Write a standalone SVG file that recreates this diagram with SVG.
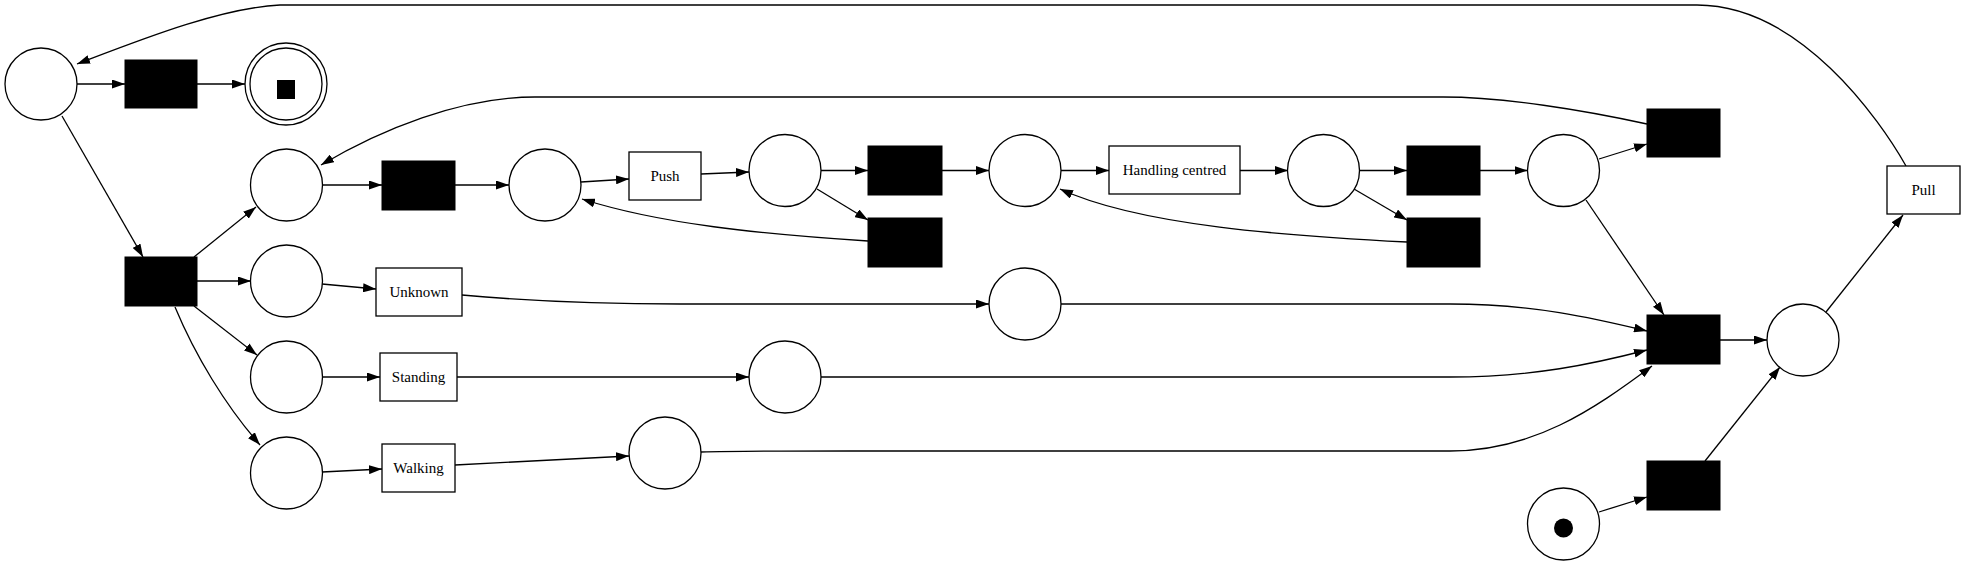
<svg xmlns="http://www.w3.org/2000/svg" width="1965" height="565" viewBox="0 0 1965 565">
<style>
.pl{fill:#fff;stroke:#000;stroke-width:1.3}
.tb{fill:#000;stroke:#000;stroke-width:1}
.tl{fill:#fff;stroke:#000;stroke-width:1.3}
.lb{font-family:"Liberation Serif","Times New Roman",serif;font-size:15px;text-anchor:middle;fill:#000}
.e{fill:none;stroke:#000;stroke-width:1.3;marker-end:url(#ah)}
</style>
<defs>
<marker id="ah" viewBox="0 0 13 9" refX="13" refY="4.5" markerWidth="13" markerHeight="9" markerUnits="userSpaceOnUse" orient="auto">
<path d="M0,0 L13,4.5 L0,9 Z" fill="#000"/>
</marker>
</defs>
<rect width="1965" height="565" fill="#fff"/>
<g id="connectors">
<path class="e" d="M1906,166 C1880,120 1800,5 1697,5 L280,5 C220,8 140,40 77,64"/>
<path class="e" d="M77,84 L125,84"/>
<path class="e" d="M197,84 L245,84"/>
<path class="e" d="M62,116 L143,257"/>
<path class="e" d="M194,257 L256,207"/>
<path class="e" d="M197,281 L251,281"/>
<path class="e" d="M194,306 L257,355"/>
<path class="e" d="M175,307 C195,355 225,405 260,445"/>
<path class="e" d="M322,185 L382,185"/>
<path class="e" d="M455,185 L509,185"/>
<path class="e" d="M581,182 L629,179"/>
<path class="e" d="M701,174 L749,172"/>
<path class="e" d="M821,170.5 L868,170.5"/>
<path class="e" d="M817,189 L868,220"/>
<path class="e" d="M868,241 C760,234 660,224 582,199"/>
<path class="e" d="M942,170.5 L989,170.5"/>
<path class="e" d="M1061,170.5 L1109,170.5"/>
<path class="e" d="M1240,170.5 L1288,170.5"/>
<path class="e" d="M1359,170.5 L1407,170.5"/>
<path class="e" d="M1354,189 L1407,220"/>
<path class="e" d="M1407,242 C1290,236 1140,226 1060,189"/>
<path class="e" d="M1480,170.5 L1527.5,170.5"/>
<path class="e" d="M1599,159 L1647,144"/>
<path class="e" d="M1647,124 C1583,110 1503,97 1443,97 L535,97 C460,97 380,130 321,165"/>
<path class="e" d="M322,284 L376,289"/>
<path class="e" d="M462,295 C540,302 600,304 680,304 L989,304"/>
<path class="e" d="M1061,304 L1450,304 C1533,304 1593,318 1647,331"/>
<path class="e" d="M322,377 L380,377"/>
<path class="e" d="M457,377 L749,377"/>
<path class="e" d="M821,377 L1450,377 C1533,377 1593,364 1647,350"/>
<path class="e" d="M322,472 L382,469"/>
<path class="e" d="M455,465 L629,456"/>
<path class="e" d="M701,452 C740,451 780,451 850,451 L1450,451 C1533,451 1593,410 1652,366"/>
<path class="e" d="M1586,200 L1664,315"/>
<path class="e" d="M1720,340 L1767,340"/>
<path class="e" d="M1599,512 L1647,497"/>
<path class="e" d="M1705,461 L1780,367"/>
<path class="e" d="M1826,312 L1903,215"/>
</g>
<g id="p0"><circle class="pl" cx="41" cy="84" r="36"/></g>
<g id="t0"><rect class="tb" x="125" y="60" width="72" height="48"/></g>
<g id="pend"><circle class="pl" cx="286" cy="84" r="41"/><circle class="pl" cx="286" cy="84" r="36"/><rect x="277" y="80" width="18" height="19" fill="#000"/></g>
<g id="tsplit"><rect class="tb" x="125" y="257" width="72" height="49"/></g>
<g id="p2"><circle class="pl" cx="286.5" cy="185" r="36"/></g>
<g id="t1"><rect class="tb" x="382" y="161" width="73" height="49"/></g>
<g id="p3"><circle class="pl" cx="545" cy="185" r="36"/></g>
<g id="push"><rect class="tl" x="629" y="152" width="72" height="48"/><text class="lb" x="665" y="181">Push</text></g>
<g id="p4"><circle class="pl" cx="785" cy="170.5" r="36"/></g>
<g id="ta"><rect class="tb" x="868" y="146" width="74" height="49"/></g>
<g id="tb"><rect class="tb" x="868" y="218" width="74" height="49"/></g>
<g id="p5"><circle class="pl" cx="1025" cy="170.5" r="36"/></g>
<g id="handling"><rect class="tl" x="1109" y="146" width="131" height="48"/><text class="lb" x="1174.5" y="175">Handling centred</text></g>
<g id="p6"><circle class="pl" cx="1323.5" cy="170.5" r="36"/></g>
<g id="tc"><rect class="tb" x="1407" y="146" width="73" height="49"/></g>
<g id="td"><rect class="tb" x="1407" y="218" width="73" height="49"/></g>
<g id="p7"><circle class="pl" cx="1563.5" cy="170.5" r="36"/></g>
<g id="te"><rect class="tb" x="1647" y="109" width="73" height="48"/></g>
<g id="pu"><circle class="pl" cx="286.5" cy="281" r="36"/></g>
<g id="unknown"><rect class="tl" x="376" y="268" width="86" height="48"/><text class="lb" x="419" y="297">Unknown</text></g>
<g id="pu2"><circle class="pl" cx="1025" cy="304" r="36"/></g>
<g id="ps"><circle class="pl" cx="286.5" cy="377" r="36"/></g>
<g id="standing"><rect class="tl" x="380" y="353" width="77" height="48"/><text class="lb" x="418.5" y="382">Standing</text></g>
<g id="ps2"><circle class="pl" cx="785" cy="377" r="36"/></g>
<g id="pw"><circle class="pl" cx="286.5" cy="473" r="36"/></g>
<g id="walking"><rect class="tl" x="382" y="444" width="73" height="48"/><text class="lb" x="418.5" y="473">Walking</text></g>
<g id="pw2"><circle class="pl" cx="665" cy="453" r="36"/></g>
<g id="tm"><rect class="tb" x="1647" y="315" width="73" height="49"/></g>
<g id="p8"><circle class="pl" cx="1803" cy="340" r="36"/></g>
<g id="ts"><rect class="tb" x="1647" y="461" width="73" height="49"/></g>
<g id="pstart"><circle class="pl" cx="1563.5" cy="524" r="36"/><circle cx="1563.5" cy="528" r="9.5" fill="#000"/></g>
<g id="pull"><rect class="tl" x="1887" y="166" width="73" height="48"/><text class="lb" x="1923.5" y="195">Pull</text></g>
</svg>
